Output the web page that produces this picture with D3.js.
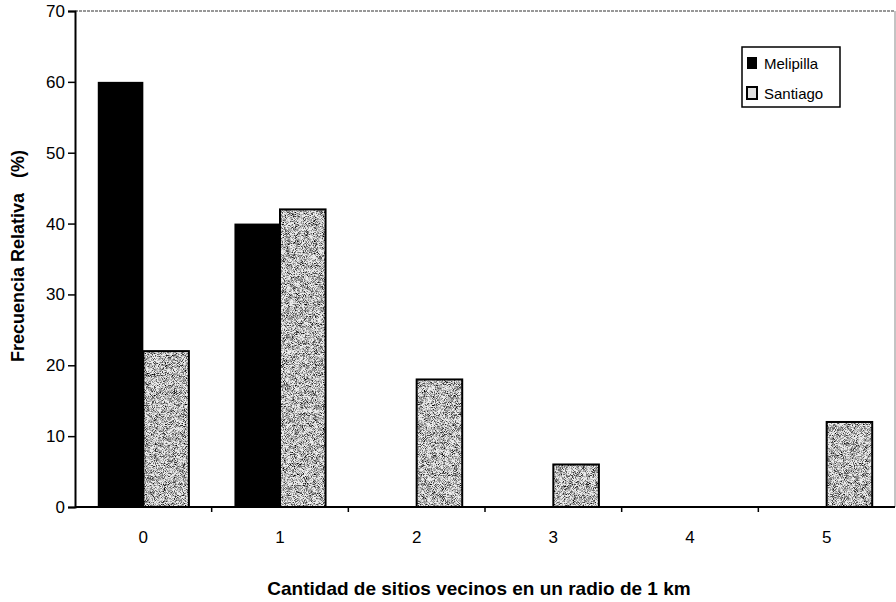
<!DOCTYPE html>
<html>
<head>
<meta charset="utf-8">
<script src="https://cdn.jsdelivr.net/npm/d3@7"></script>
<style>
  body { margin: 0; background: #fff; }
  svg { display: block; font-family: Arial, "Liberation Sans", sans-serif; }
</style>
</head>
<body>
<svg id="chart" width="896" height="602"></svg>
<script>
// values
const categories = ['0', '1', '2', '3', '4', '5'];
const seriesNames = ['Melipilla', 'Santiago'];
const melipilla = [60, 40, 0, 0, 0, 0];
const santiago = [22, 42, 18, 6, 0, 12];
const yTicks = [0, 10, 20, 30, 40, 50, 60, 70];

const svg = d3.select('#chart');
const plotL = 75, plotR = 895, plotT = 11, plotB = 507;

// grainy grey fill for Santiago: fine speckle, lightly modulated
const defs = svg.append('defs');
const f = defs.append('filter').attr('id', 'grain')
  .attr('x', 0).attr('y', 0).attr('width', 1).attr('height', 1)
  .attr('color-interpolation-filters', 'sRGB');
f.append('feTurbulence').attr('type', 'fractalNoise').attr('baseFrequency', 1.1)
  .attr('numOctaves', 1).attr('seed', 7).attr('result', 'fine0');
f.append('feColorMatrix').attr('in', 'fine0').attr('type', 'matrix')
  .attr('values', '1 0 0 0 0  1 0 0 0 0  1 0 0 0 0  0 0 0 0 1').attr('result', 'fine');
f.append('feTurbulence').attr('type', 'fractalNoise').attr('baseFrequency', 0.22)
  .attr('numOctaves', 2).attr('seed', 3).attr('result', 'coarse0');
f.append('feColorMatrix').attr('in', 'coarse0').attr('type', 'matrix')
  .attr('values', '1 0 0 0 0  1 0 0 0 0  1 0 0 0 0  0 0 0 0 1').attr('result', 'coarse');
f.append('feComposite').attr('in', 'fine').attr('in2', 'coarse').attr('operator', 'arithmetic')
  .attr('k1', 0).attr('k2', 0.75).attr('k3', 0.28).attr('k4', -0.04).attr('result', 'mix');
f.append('feColorMatrix').attr('in', 'mix').attr('type', 'matrix')
  .attr('values', '0 0 0 0 0  0 0 0 0 0  0 0 0 0 0  -3.4 0 0 0 1.85').attr('result', 'dots');
f.append('feComposite').attr('in', 'dots').attr('in2', 'SourceGraphic').attr('operator', 'in').attr('result', 'd2');
const m = f.append('feMerge');
m.append('feMergeNode').attr('in', 'SourceGraphic');
m.append('feMergeNode').attr('in', 'd2');

const y = d3.scaleLinear().domain([0, 70]).range([plotB, plotT]);
const x0 = d3.scaleBand().domain(categories).range([plotL, plotR]);
const x1 = d3.scaleBand().domain(seriesNames).range([0, x0.bandwidth()]).paddingOuter(0.5);

// frame top/right
svg.append('line').attr('x1', plotL).attr('x2', plotR).attr('y1', plotT).attr('y2', plotT)
  .attr('stroke', '#777').attr('stroke-width', 1.3).attr('stroke-dasharray', '3 1');
svg.append('line').attr('x1', plotR).attr('x2', plotR).attr('y1', plotT).attr('y2', plotB)
  .attr('stroke', '#888').attr('stroke-width', 1);

// Melipilla bars
svg.append('g').selectAll('rect')
  .data(melipilla.map((v, i) => ({ c: categories[i], v })).filter(d => d.v > 0))
  .join('rect')
  .attr('x', d => x0(d.c) + x1('Melipilla'))
  .attr('y', d => y(d.v))
  .attr('width', x1.bandwidth())
  .attr('height', d => y(0) - y(d.v))
  .attr('fill', '#000');

// Santiago bars
const sData = santiago.map((v, i) => ({ c: categories[i], v })).filter(d => d.v > 0);
const sg = svg.append('g');
sg.selectAll('rect.fill').data(sData).join('rect').attr('class', 'fill')
  .attr('x', d => x0(d.c) + x1('Santiago'))
  .attr('y', d => y(d.v))
  .attr('width', x1.bandwidth())
  .attr('height', d => y(0) - y(d.v))
  .attr('fill', '#ececec')
  .attr('filter', 'url(#grain)');
sg.selectAll('rect.edge').data(sData).join('rect').attr('class', 'edge')
  .attr('x', d => x0(d.c) + x1('Santiago'))
  .attr('y', d => y(d.v))
  .attr('width', x1.bandwidth())
  .attr('height', d => y(0) - y(d.v))
  .attr('fill', 'none').attr('stroke', '#000').attr('stroke-width', 2);

// y axis
const yAxis = svg.append('g').attr('transform', `translate(${plotL},0)`)
  .call(d3.axisLeft(y).tickValues(yTicks).tickSize(7).tickPadding(3));
yAxis.select('.domain').attr('stroke-width', 2);
yAxis.selectAll('.tick line').attr('stroke-width', 1.5);
yAxis.selectAll('text').attr('font-size', 17).attr('fill', '#000');

// x axis: ticks at band edges, labels centred
const xAxis = svg.append('g').attr('transform', `translate(0,${plotB})`);
xAxis.append('line').attr('x1', plotL).attr('x2', plotR).attr('stroke', '#000').attr('stroke-width', 2);
xAxis.selectAll('line.tk').data(categories.slice(1)).join('line').attr('class', 'tk')
  .attr('x1', d => x0(d)).attr('x2', d => x0(d)).attr('y1', 0).attr('y2', 5)
  .attr('stroke', '#000').attr('stroke-width', 1.5);
xAxis.selectAll('text').data(categories).join('text')
  .attr('x', d => x0(d) + x0.bandwidth() / 2).attr('y', 36)
  .attr('text-anchor', 'middle').attr('font-size', 17).text(d => d);

// axis titles
svg.append('text').attr('x', 479).attr('y', 595).attr('text-anchor', 'middle')
  .attr('font-size', 19).attr('font-weight', 'bold')
  .text('Cantidad de sitios vecinos en un radio de 1 km');
svg.append('text').attr('transform', 'translate(24,256) rotate(-90)')
  .attr('text-anchor', 'middle').attr('font-size', 18).attr('font-weight', 'bold')
  .attr('xml:space', 'preserve').style('white-space', 'pre')
  .text('Frecuencia Relativa   (%)');

// legend
const lg = svg.append('g').attr('transform', 'translate(742,47)');
lg.append('rect').attr('width', 98).attr('height', 60)
  .attr('fill', '#fff').attr('stroke', '#000').attr('stroke-width', 1.5);
const items = lg.selectAll('g.it').data(seriesNames).join('g').attr('class', 'it')
  .attr('transform', (d, i) => `translate(5,${10 + i * 30})`);
items.append('rect').attr('width', 10).attr('height', 12)
  .attr('fill', d => d === 'Melipilla' ? '#000' : '#e0e0e0')
  .attr('stroke', '#000').attr('stroke-width', d => d === 'Melipilla' ? 0 : 2);
items.append('text').attr('x', 17).attr('y', 12).attr('font-size', 15).text(d => d);
</script>
</body>
</html>
